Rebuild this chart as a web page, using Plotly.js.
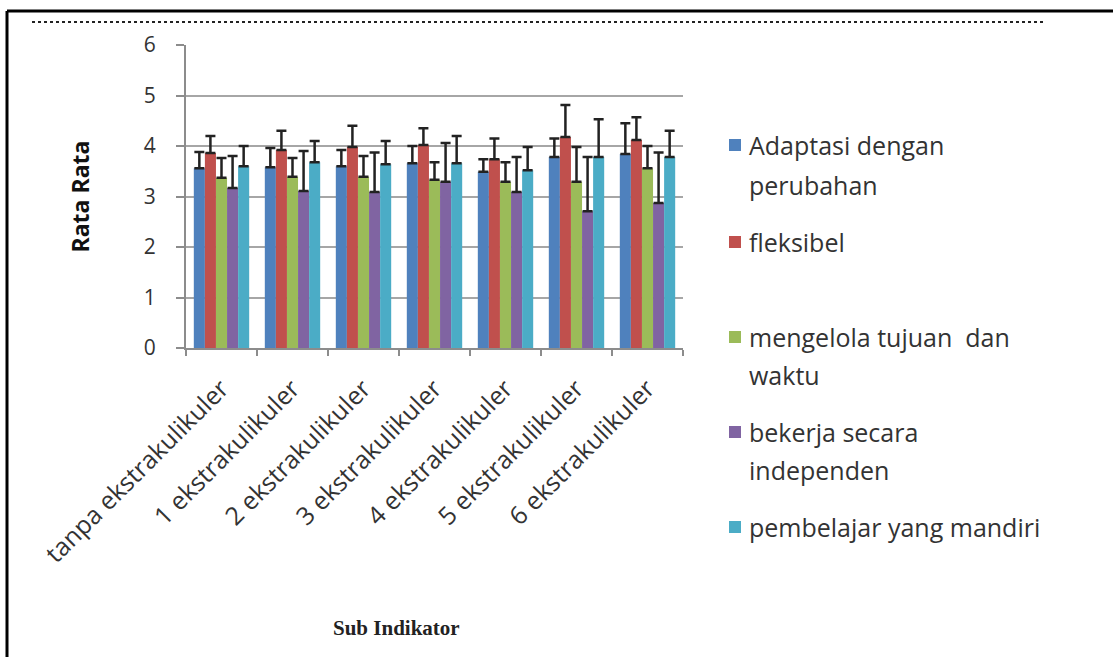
<!DOCTYPE html>
<html>
<head>
<meta charset="utf-8">
<script src="https://cdn.plot.ly/plotly-3.0.1.min.js"></script>
<style>
  html, body { margin: 0; padding: 0; background: #fff; }
  #chart { width: 1113px; height: 657px; }
</style>
</head>
<body>
<div id="chart"></div>
<script>
// ---- data ----
const categories = ["tanpa ekstrakulikuler", "1 ekstrakulikuler", "2 ekstrakulikuler",
  "3 ekstrakulikuler", "4 ekstrakulikuler", "5 ekstrakulikuler", "6 ekstrakulikuler"];

const seriesNames = ["Adaptasi dengan perubahan", "fleksibel", "mengelola tujuan  dan waktu",
  "bekerja secara independen", "pembelajar yang mandiri"];

const adaptasi   = [3.56, 3.58, 3.60, 3.66, 3.49, 3.78, 3.84];
const fleksibel  = [3.86, 3.92, 3.98, 4.02, 3.74, 4.18, 4.12];
const mengelola  = [3.37, 3.39, 3.39, 3.33, 3.29, 3.29, 3.56];
const bekerja    = [3.17, 3.11, 3.09, 3.29, 3.09, 2.71, 2.87];
const pembelajar = [3.60, 3.68, 3.64, 3.66, 3.52, 3.78, 3.78];

const errAdaptasi   = [0.32, 0.38, 0.32, 0.34, 0.25, 0.37, 0.61];
const errFleksibel  = [0.34, 0.38, 0.42, 0.33, 0.41, 0.63, 0.45];
const errMengelola  = [0.39, 0.37, 0.41, 0.35, 0.39, 0.69, 0.44];
const errBekerja    = [0.63, 0.79, 0.78, 0.77, 0.69, 1.07, 1.00];
const errPembelajar = [0.40, 0.42, 0.46, 0.54, 0.46, 0.75, 0.52];

const yTicks = [0, 1, 2, 3, 4, 5, 6];

// ---- styling ----
const colors = ["#4F81BD", "#C0504D", "#9BBB59", "#8064A2", "#4BACC6"];
const values = [adaptasi, fleksibel, mengelola, bekerja, pembelajar];
const errors = [errAdaptasi, errFleksibel, errMengelola, errBekerja, errPembelajar];
const legendLines = [
  ["Adaptasi dengan", "perubahan"],
  ["fleksibel"],
  ["mengelola tujuan  dan", "waktu"],
  ["bekerja secara", "independen"],
  ["pembelajar yang mandiri"]
];
const legendY = [[145, 185], [242], [337, 375], [432, 470], [527]];

const W = 1113, H = 657;
const M = { l: 186, r: 430, t: 45, b: 309 };
const PW = W - M.l - M.r, PH = H - M.t - M.b;
const px = x => (x - M.l) / PW;
const py = y => (H - M.b - y) / PH;

const traces = values.map((v, i) => ({
  type: "bar",
  name: seriesNames[i],
  x: categories,
  y: v,
  marker: { color: colors[i], line: { width: 0 } },
  error_y: {
    type: "data", symmetric: false, array: errors[i],
    arrayminus: v.map(() => 0),
    color: "#222222", thickness: 2.5, width: 5
  },
  hoverinfo: "x+y+name"
}));

const font = "'Open Sans', 'Noto Sans', sans-serif";
const annotations = [];
const shapes = [];

legendLines.forEach((lines, i) => {
  const cy = legendY[i][0];
  shapes.push({
    type: "rect", xref: "paper", yref: "paper",
    x0: px(729), x1: px(741), y0: py(cy - 6), y1: py(cy + 6),
    fillcolor: colors[i], line: { width: 0 }
  });
  lines.forEach((t, j) => {
    annotations.push({
      xref: "paper", yref: "paper", x: px(747), y: py(legendY[i][j]),
      xanchor: "left", yanchor: "middle", showarrow: false,
      text: t, font: { family: font, size: 25, color: "#333333" }
    });
  });
});

// x-axis title (placed left of the plot centre, as in the reference)
annotations.push({
  xref: "paper", yref: "paper", x: px(396), y: py(628),
  xanchor: "center", yanchor: "middle", showarrow: false,
  text: "<b>Sub Indikator</b>",
  font: { family: "'Liberation Serif', 'DejaVu Serif', serif", size: 21, color: "#222" }
});

// outer frame (top and left) and dotted line
shapes.push({ type: "line", xref: "paper", yref: "paper",
  x0: px(7), x1: px(1120), y0: py(11), y1: py(11), line: { color: "#000", width: 3 } });
shapes.push({ type: "line", xref: "paper", yref: "paper",
  x0: px(7), x1: px(7), y0: py(11), y1: py(670), line: { color: "#000", width: 3 } });
shapes.push({ type: "line", xref: "paper", yref: "paper",
  x0: px(32), x1: px(1043), y0: py(22), y1: py(22), line: { color: "#222", width: 2, dash: "dot" } });

const layout = {
  width: W, height: H,
  margin: M,
  paper_bgcolor: "#ffffff",
  plot_bgcolor: "#ffffff",
  barmode: "group",
  bargap: 0.22,
  bargroupgap: 0,
  showlegend: false,
  font: { family: font, color: "#222" },
  xaxis: {
    type: "category",
    tickangle: -45,
    tickson: "boundaries",
    ticks: "outside", ticklen: 6, tickcolor: "#8c8c8c", tickwidth: 2,
    showline: true, linecolor: "#8c8c8c", linewidth: 2,
    showgrid: false,
    tickfont: { family: font, size: 25, color: "#333333" },
    ticklabelstandoff: 14,
    automargin: false
  },
  yaxis: {
    range: [0, 6],
    tickvals: yTicks,
    ticks: "outside", ticklen: 8, tickcolor: "#8c8c8c", tickwidth: 2,
    showline: true, linecolor: "#8c8c8c", linewidth: 2,
    showgrid: true, gridcolor: "#a6a6a6", gridwidth: 2,
    zeroline: false,
    tickfont: { family: font, size: 21, color: "#333333" },
    ticklabelstandoff: 16,
    title: { text: "<b>Rata Rata</b>", font: { family: font, size: 23, color: "#111" }, standoff: 48 },
    automargin: false
  },
  annotations: annotations,
  shapes: shapes
};

Plotly.newPlot("chart", traces, layout, { displayModeBar: false, staticPlot: true });
</script>
</body>
</html>
